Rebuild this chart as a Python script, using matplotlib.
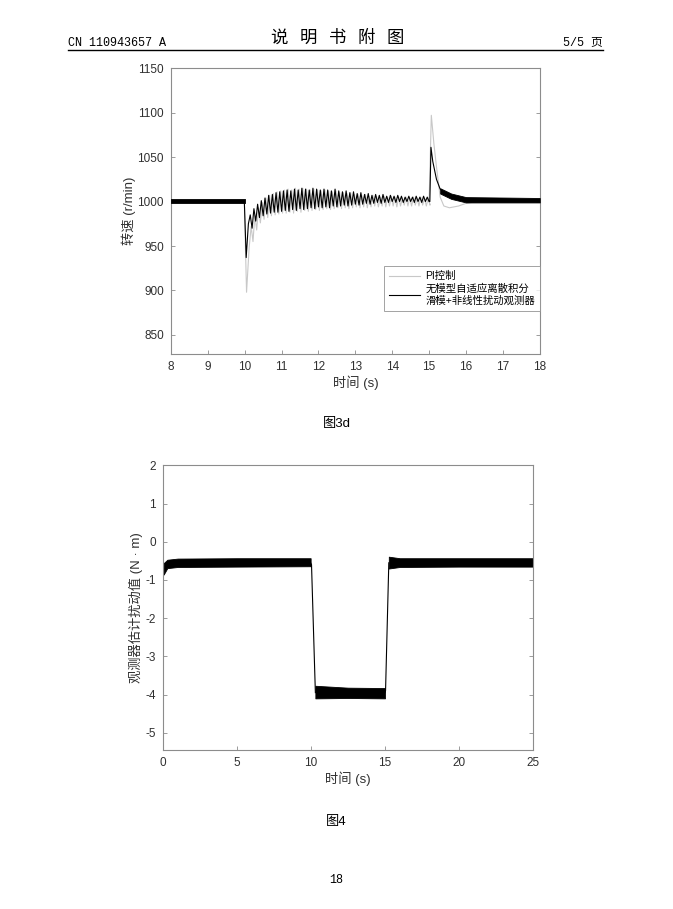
import numpy as np
import matplotlib
matplotlib.use('Agg')
import matplotlib.pyplot as plt
from matplotlib.lines import Line2D

plt.rcParams['font.family'] = ['Liberation Sans', 'Noto Sans CJK SC']
plt.rcParams['axes.unicode_minus'] = False

# ---- figure 3d : speed response ----
x_ticks_3d = [8, 9, 10, 11, 12, 13, 14, 15, 16, 17, 18]
y_ticks_3d = [850, 900, 950, 1000, 1050, 1100, 1150]
legend_labels = ['PI控制', '无模型自适应离散积分\n滑模+非线性扰动观测器']

# flat noisy band before the load step (black trace)
pre_t = [8.0, 10.0]
pre_lo = [998, 998]
pre_hi = [1003, 1003]

# black trace: drop at 10 s, oscillation, jump at 15 s
blk_drop_t = [9.99, 10.04, 10.10]
blk_drop_v = [1000, 937, 975]
blk_peaks = [985, 992, 997, 1001, 1004, 1007, 1008, 1010, 1011, 1012,
             1013, 1012, 1014, 1013, 1015, 1014, 1013, 1015, 1014, 1013,
             1014, 1013, 1012, 1014, 1012, 1011, 1012, 1010, 1011, 1009,
             1010, 1008, 1009, 1007, 1008, 1007, 1008, 1006, 1007, 1006,
             1007, 1006, 1005, 1006, 1005, 1006, 1005, 1006, 1005]
blk_troughs = [970, 978, 982, 984, 986, 987, 988, 988, 989, 990,
               989, 991, 990, 992, 991, 992, 993, 992, 994, 993,
               994, 993, 995, 994, 995, 996, 995, 996, 997, 996,
               997, 998, 997, 998, 999, 998, 999, 999, 1000, 999,
               1000, 999, 1000, 1000, 999, 1000, 999, 1000, 1000]
blk_jump_t = [15.02, 15.05, 15.10, 15.20, 15.30, 15.45, 15.60, 15.80, 16.0, 18.0]
blk_jump_v = [1000, 1061, 1045, 1025, 1014, 1009, 1007, 1005, 1003, 1002]
post_t = [15.3, 15.6, 16.0, 18.0]
post_lo = [1009, 1003, 999, 999]
post_hi = [1015, 1009, 1005, 1004]

# grey trace (PI)
pi_pre_t = [8.0, 9.99]
pi_pre_v = [1000, 1000]
pi_drop_t = [9.99, 10.05, 10.12]
pi_drop_v = [1000, 898, 948]
pi_peaks = [972, 985, 993, 999, 1004, 1007, 1009, 1011, 1012, 1013,
            1014, 1013, 1015, 1014, 1015, 1014, 1013, 1014, 1013, 1012,
            1013, 1012, 1011, 1012, 1010, 1010, 1009, 1010, 1008, 1008,
            1007, 1008, 1006, 1007, 1006, 1005, 1006, 1005, 1006, 1005,
            1005, 1004, 1005, 1004, 1005, 1004, 1005, 1004, 1004]
pi_troughs = [955, 968, 976, 980, 982, 984, 985, 986, 987, 987,
              988, 987, 989, 988, 990, 989, 990, 991, 990, 991,
              992, 991, 992, 993, 992, 993, 992, 993, 994, 993,
              994, 993, 994, 995, 994, 995, 994, 995, 995, 994,
              995, 996, 995, 995, 996, 995, 996, 995, 996]
pi_jump_t = [15.0, 15.06, 15.13, 15.20, 15.30, 15.40, 15.55, 15.80, 16.0, 16.3, 18.0]
pi_jump_v = [1000, 1097, 1065, 1039, 1005, 995, 993, 995, 998, 1000, 1000]

# ---- figure 4 : estimated disturbance ----
x_ticks_4 = [0, 5, 10, 15, 20, 25]
y_ticks_4 = [-5, -4, -3, -2, -1, 0, 1, 2]
start_t = [0.0, 0.02, 0.06]
start_v = [-0.05, -0.85, -0.70]
band1_t = [0.05, 0.3, 1.0, 5.0, 9.98]
band1_lo = [-0.86, -0.69, -0.66, -0.65, -0.64]
band1_hi = [-0.56, -0.47, -0.44, -0.43, -0.43]
step_down_t = [9.98, 10.04, 10.30]
step_down_v = [-0.55, -0.60, -3.95]
band2_t = [10.30, 12.5, 15.0]
band2_lo = [-4.10, -4.09, -4.10]
band2_hi = [-3.77, -3.82, -3.83]
step_up_t = [15.0, 15.04, 15.26]
step_up_v = [-3.95, -3.90, -0.55]
band3_t = [15.26, 16.0, 20.0, 25.0]
band3_lo = [-0.70, -0.66, -0.65, -0.65]
band3_hi = [-0.39, -0.43, -0.43, -0.43]

FRAME = '#8c8c8c'
TXT = '#303030'
GREY = '#c8c8c8'


def style_axes(ax):
    for s in ax.spines.values():
        s.set_color(FRAME)
        s.set_linewidth(0.8)
    ax.tick_params(direction='in', length=3, width=0.6, colors=FRAME,
                   labelcolor=TXT, labelsize=8.5, pad=5, top=False, right=True)


def zigzag(t0, peaks, troughs):
    t, v = [], []
    for i in range(len(peaks)):
        t += [t0 + 0.1 * i, t0 + 0.05 + 0.1 * i]
        v += [peaks[i], troughs[i]]
    return t, v


fig = plt.figure(figsize=(6.73, 9.09), dpi=100)

# header
fig.text(0.101, 0.953, 'CN 110943657 A', fontsize=8.5, va='center', ha='left',
         family=['Liberation Mono', 'Noto Sans CJK SC'])
fig.text(0.502, 0.958, '说   明   书   附   图', fontsize=12.5,
         va='center', ha='center', family=['Noto Sans CJK SC'])
fig.text(0.896, 0.953, '5/5 页', fontsize=8.5, va='center', ha='right',
         family=['Liberation Mono', 'Noto Sans CJK SC'])
fig.add_artist(Line2D([0.101, 0.896], [0.945, 0.945], color='black', lw=1.0))

# top chart
ax1 = fig.add_axes([0.254, 0.611, 0.548, 0.314])
pt, pv = zigzag(10.175, pi_peaks, pi_troughs)
pi_t = pi_pre_t + pi_drop_t + pt + pi_jump_t
pi_v = pi_pre_v + pi_drop_v + pv + pi_jump_v
h_pi, = ax1.plot(pi_t, pi_v, color=GREY, lw=0.8, zorder=2)

ax1.fill_between(pre_t, pre_lo, pre_hi, color='black', lw=0.6, zorder=3)
bt, bv = zigzag(10.15, blk_peaks, blk_troughs)
blk_t = blk_drop_t + bt + blk_jump_t
blk_v = blk_drop_v + bv + blk_jump_v
h_blk, = ax1.plot(blk_t, blk_v, color='black', lw=0.8, zorder=3)
ax1.fill_between(post_t, post_lo, post_hi, color='black', lw=0.6, zorder=3)

ax1.set_xlim(8, 18)
ax1.set_ylim(829, 1150)
ax1.set_xticks(x_ticks_3d)
ax1.set_yticks(y_ticks_3d)
ax1.set_xlabel('时间 (s)', fontsize=9.5, color=TXT, labelpad=2)
ax1.set_ylabel('转速 (r/min)', fontsize=9.5, color=TXT, labelpad=1)
style_axes(ax1)
leg = ax1.legend([h_pi, h_blk], legend_labels, loc='lower right',
                 bbox_to_anchor=(1.0, 0.15), borderaxespad=0.0, frameon=True,
                 fancybox=False, handlelength=3.0, borderpad=0.45,
                 labelspacing=0.25, handletextpad=0.5,
                 prop={'family': ['Liberation Sans', 'Noto Sans CJK SC'], 'size': 7.5})
leg.get_frame().set_edgecolor(FRAME)
leg.get_frame().set_linewidth(0.7)

fig.text(0.5, 0.5336, '图3d', fontsize=9.5, ha='center', va='center')

# bottom chart
ax2 = fig.add_axes([0.242, 0.175, 0.550, 0.313])
ax2.plot(start_t, start_v, color='black', lw=0.8)
ax2.fill_between(band1_t, band1_lo, band1_hi, color='black', lw=0.6)
ax2.plot(step_down_t, step_down_v, color='black', lw=0.8)
ax2.fill_between(band2_t, band2_lo, band2_hi, color='black', lw=0.6)
ax2.plot(step_up_t, step_up_v, color='black', lw=0.8)
ax2.fill_between(band3_t, band3_lo, band3_hi, color='black', lw=0.6)
ax2.set_xlim(0, 25)
ax2.set_ylim(-5.45, 2)
ax2.set_xticks(x_ticks_4)
ax2.set_yticks(y_ticks_4)
ax2.set_xlabel('时间 (s)', fontsize=9.5, color=TXT, labelpad=2)
ax2.set_ylabel('观测器估计扰动值 (N · m)', fontsize=9.5, color=TXT, labelpad=2)
style_axes(ax2)

fig.text(0.5, 0.0957, '图4', fontsize=9.5, ha='center', va='center')
fig.text(0.5, 0.032, '18', fontsize=8.5, ha='center', va='center',
         family=['Liberation Mono'])

fig.savefig('out.png', dpi=100)
